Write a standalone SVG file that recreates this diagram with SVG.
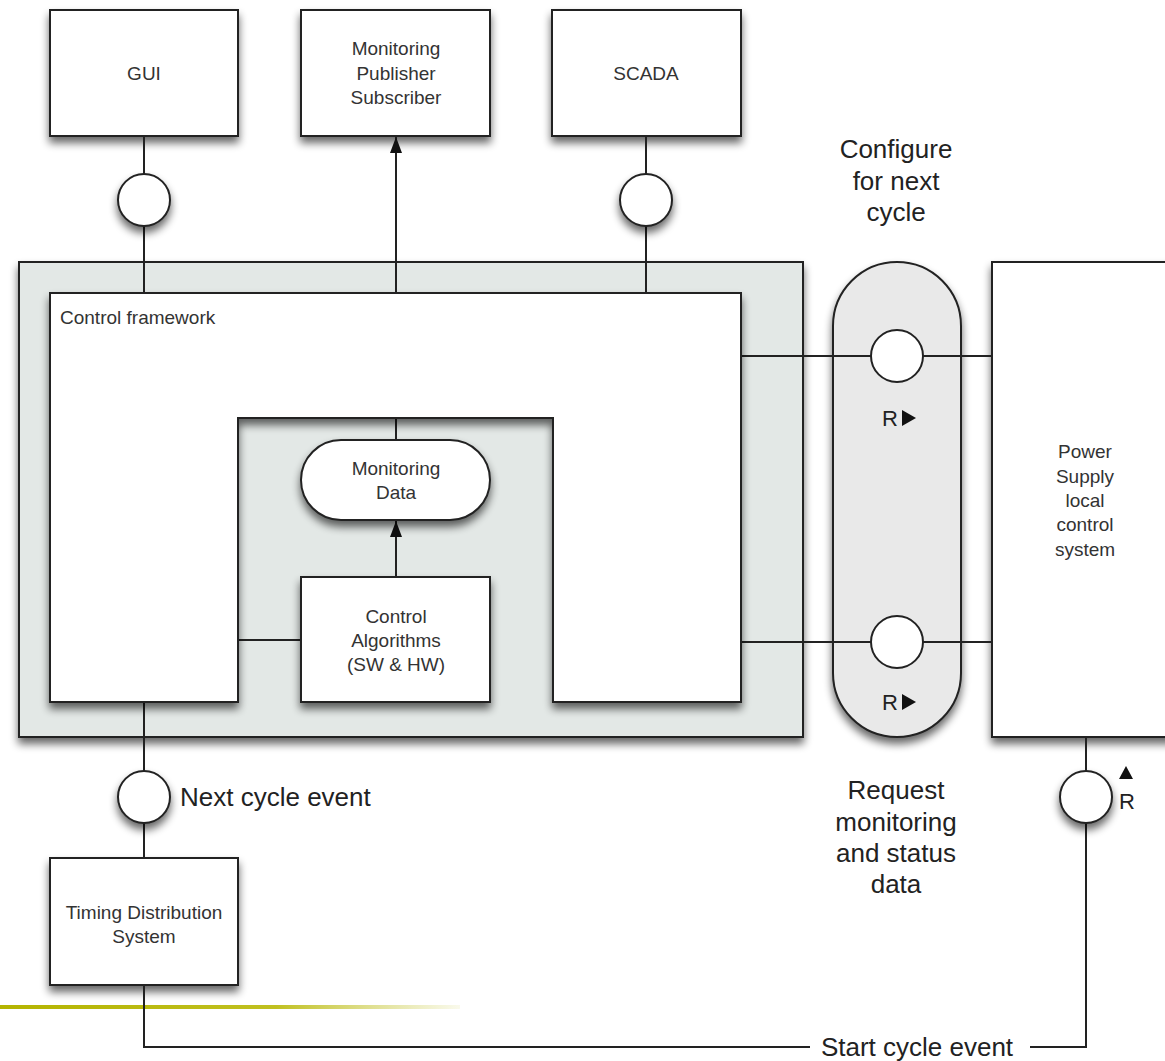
<svg xmlns="http://www.w3.org/2000/svg" width="1165" height="1061" viewBox="0 0 1165 1061">
<defs>
<filter id="sh" x="-20%" y="-20%" width="140%" height="150%" color-interpolation-filters="sRGB">
<feGaussianBlur in="SourceAlpha" stdDeviation="4" result="b"/>
<feOffset in="b" dx="0" dy="6" result="o"/>
<feComponentTransfer in="o" result="s"><feFuncA type="linear" slope="0.6"/></feComponentTransfer>
<feMerge><feMergeNode in="s"/><feMergeNode in="SourceGraphic"/></feMerge>
</filter>
<linearGradient id="olive" x1="0" y1="0" x2="1" y2="0">
<stop offset="0" stop-color="#b4b400"/>
<stop offset="0.6" stop-color="#c0c020"/>
<stop offset="1" stop-color="#c8c840" stop-opacity="0.1"/>
</linearGradient>
<marker id="arr" viewBox="0 0 16 12" refX="16" refY="6" markerWidth="16" markerHeight="12" markerUnits="userSpaceOnUse" orient="auto">
<path d="M0,0 L16,6 L0,12 z" fill="#111"/>
</marker>
</defs>
<style>
.box{fill:#fff;stroke:#222;stroke-width:2}
.shade{fill:#e3e8e6;stroke:#222;stroke-width:2}
.pill{fill:#e9e9e9;stroke:#222;stroke-width:2}
.ln{fill:none;stroke:#222;stroke-width:2}
.port{fill:#fff;stroke:#222;stroke-width:2}
.t{font-family:"Liberation Sans",Arial,sans-serif;font-size:19px;fill:#333;text-anchor:middle}
.tl{font-family:"Liberation Sans",Arial,sans-serif;font-size:26px;fill:#222;text-anchor:middle}
</style>
<rect x="0" y="1005" width="460" height="4" fill="url(#olive)"/>
<g id="container">
<rect class="shade" x="19" y="262" width="784" height="475" filter="url(#sh)"/>
</g>
<g id="rtbus">
<rect class="pill" x="833" y="262" width="128" height="475" rx="64" ry="64" filter="url(#sh)"/>
</g>
<g id="power-supply">
<rect class="box" x="992" y="262" width="190" height="475" filter="url(#sh)"/>
<text class="t"><tspan x="1085" y="458">Power</tspan><tspan x="1085" y="483">Supply</tspan><tspan x="1085" y="507">local</tspan><tspan x="1085" y="531">control</tspan><tspan x="1085" y="556">system</tspan></text>
</g>
<g id="gui">
<rect class="box" x="50" y="10" width="188" height="126" filter="url(#sh)"/>
<text class="t" x="144" y="80">GUI</text>
</g>
<g id="monitoring-pubsub">
<rect class="box" x="301" y="10" width="189" height="126" filter="url(#sh)"/>
<text class="t"><tspan x="396" y="55">Monitoring</tspan><tspan x="396" y="80">Publisher</tspan><tspan x="396" y="104">Subscriber</tspan></text>
</g>
<g id="scada">
<rect class="box" x="552" y="10" width="189" height="126" filter="url(#sh)"/>
<text class="t" x="646" y="80">SCADA</text>
</g>
<g id="timing">
<rect class="box" x="50" y="858" width="188" height="127" filter="url(#sh)"/>
<text class="t"><tspan x="144" y="919">Timing Distribution</tspan><tspan x="144" y="943">System</tspan></text>
</g>
<g id="connectors">
<line class="ln" x1="144" y1="136" x2="144" y2="293"/>
<line class="ln" x1="396" y1="293" x2="396" y2="137" marker-end="url(#arr)"/>
<line class="ln" x1="646" y1="136" x2="646" y2="293"/>
<line class="ln" x1="741" y1="356" x2="992" y2="356"/>
<line class="ln" x1="741" y1="642" x2="992" y2="642"/>
<line class="ln" x1="144" y1="702" x2="144" y2="858"/>
<polyline class="ln" points="144,985 144,1047 810,1047"/>
<polyline class="ln" points="1030,1047 1086,1047 1086,737"/>
<line class="ln" x1="396" y1="418" x2="396" y2="440"/>
<line class="ln" x1="396" y1="577" x2="396" y2="521" marker-end="url(#arr)"/>
<line class="ln" x1="238" y1="640" x2="301" y2="640"/>
</g>
<g id="control-framework">
<path class="box" d="M50,293 H741 V702 H553 V418 H238 V702 H50 Z" filter="url(#sh)"/>
<text class="t" x="60" y="324" style="text-anchor:start">Control framework</text>
</g>
<g id="monitoring-data">
<rect class="box" x="301" y="440" width="189" height="80" rx="40" ry="40" filter="url(#sh)"/>
<text class="t"><tspan x="396" y="475">Monitoring</tspan><tspan x="396" y="499">Data</tspan></text>
</g>
<g id="control-algorithms">
<rect class="box" x="301" y="577" width="189" height="125" filter="url(#sh)"/>
<text class="t"><tspan x="396" y="623">Control</tspan><tspan x="396" y="647">Algorithms</tspan><tspan x="396" y="671">(SW &amp; HW)</tspan></text>
</g>
<g id="ports">
<circle class="port" cx="144" cy="200" r="26" filter="url(#sh)"/>
<circle class="port" cx="646" cy="200" r="26" filter="url(#sh)"/>
<circle class="port" cx="897" cy="356" r="26"/>
<circle class="port" cx="897" cy="642" r="26"/>
<circle class="port" cx="144" cy="797" r="26" filter="url(#sh)"/>
<circle class="port" cx="1086" cy="797" r="26" filter="url(#sh)"/>
</g>
<g id="labels">
<text class="tl" x="890" y="426" style="font-size:22px">R</text>
<path d="M902,410 L916,418 L902,426 Z" fill="#111"/>
<text class="tl" x="890" y="710" style="font-size:22px">R</text>
<path d="M902,694 L916,702 L902,710 Z" fill="#111"/>
<path d="M1119,779 L1126,766 L1133,779 Z" fill="#111"/>
<text class="tl" x="1127" y="809" style="font-size:22px">R</text>
<text class="tl"><tspan x="896" y="158">Configure</tspan><tspan x="896" y="190">for next</tspan><tspan x="896" y="221">cycle</tspan></text>
<text class="tl"><tspan x="896" y="799">Request</tspan><tspan x="896" y="831">monitoring</tspan><tspan x="896" y="862">and status</tspan><tspan x="896" y="893">data</tspan></text>
<text class="tl" x="180" y="806" style="text-anchor:start">Next cycle event</text>
<text class="tl" x="917" y="1056">Start cycle event</text>
</g>
</svg>
